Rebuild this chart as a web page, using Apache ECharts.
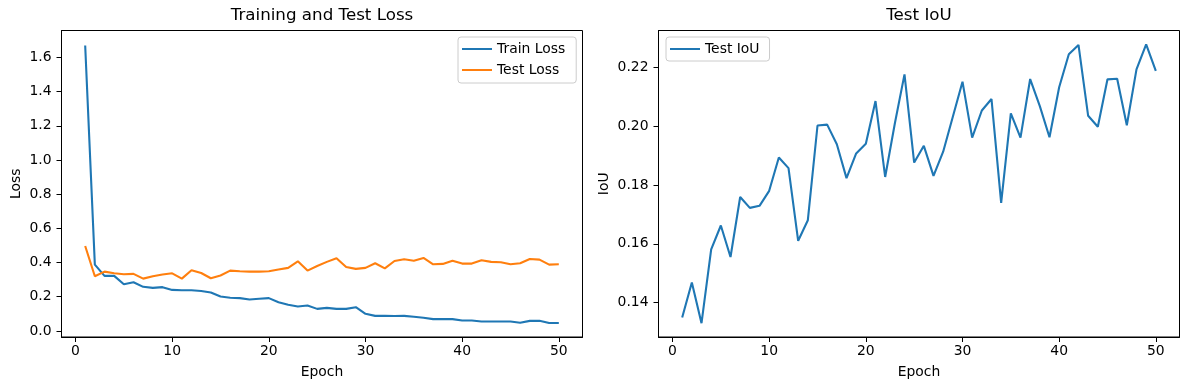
<!DOCTYPE html>
<html>
<head>
<meta charset="utf-8">
<script src="https://cdn.jsdelivr.net/npm/echarts@6/dist/echarts.min.js"></script>
<style>
html,body{margin:0;padding:0;background:#fff;}
#chart{width:1189px;height:390px;}
</style>
</head>
<body>
<div id="chart"></div>
<script>
const epochs = Array.from({length: 50}, (_, i) => i + 1);
const trainLoss = [1.67,0.388,0.322,0.322,0.273,0.285,0.258,0.252,0.256,0.240,
  0.238,0.238,0.234,0.225,0.201,0.194,0.192,0.184,0.188,0.192,
  0.168,0.153,0.143,0.149,0.129,0.135,0.129,0.129,0.139,0.100,
  0.088,0.088,0.087,0.088,0.083,0.077,0.069,0.069,0.069,0.061,
  0.061,0.055,0.055,0.055,0.055,0.048,0.059,0.059,0.046,0.046];
const testLoss = [0.497,0.320,0.347,0.337,0.332,0.334,0.306,0.320,0.330,0.337,
  0.306,0.355,0.339,0.308,0.324,0.353,0.349,0.347,0.347,0.349,
  0.359,0.369,0.407,0.353,0.380,0.404,0.425,0.374,0.363,0.369,
  0.396,0.366,0.409,0.419,0.411,0.427,0.390,0.392,0.411,0.394,
  0.394,0.413,0.404,0.402,0.390,0.396,0.421,0.417,0.388,0.390];
const testIoU = [0.1349,0.1468,0.1330,0.1581,0.1662,0.1555,0.1759,0.1722,0.1729,0.1780,
  0.1893,0.1857,0.1610,0.1680,0.2002,0.2005,0.1938,0.1823,0.1907,0.1940,
  0.2085,0.1827,0.2009,0.2176,0.1876,0.1933,0.1831,0.1913,0.2032,0.2151,
  0.1961,0.2053,0.2092,0.1739,0.2043,0.1961,0.2160,0.2068,0.1962,0.2132,
  0.2244,0.2276,0.2035,0.1998,0.2159,0.2161,0.2003,0.2193,0.2278,0.2188];
const xTicks = [0,10,20,30,40,50];
const lossTicks = [0,0.2,0.4,0.6,0.8,1.0,1.2,1.4,1.6];
const iouTicks = [0.14,0.16,0.18,0.20,0.22];

const FONT = 'DejaVu Sans';
const C1 = '#1f77b4', C2 = '#ff7f0e';
const pairs = arr => epochs.map((e, i) => [e, arr[i]]);

function xAxisCfg(idx){
  return {
    type:'value', gridIndex: idx, min:-1.45, max:52.45,
    name:'Epoch', nameLocation:'middle', nameGap:28,
    nameTextStyle:{fontFamily:FONT,fontSize:13.9,color:'#000'},
    axisLine:{show:true,onZero:false,lineStyle:{color:'#000',width:1}},
    axisTick:{show:true,inside:false,length:5,customValues:xTicks,lineStyle:{color:'#000',width:1}},
    axisLabel:{customValues:xTicks,margin:7,fontFamily:FONT,fontSize:13.9,color:'#000'},
    splitLine:{show:false}
  };
}
function yAxisCfg(idx,name,min,max,ticks,dec,gap){
  return {
    type:'value', gridIndex: idx, min:min, max:max,
    name:name, nameLocation:'middle', nameGap:gap,
    nameTextStyle:{fontFamily:FONT,fontSize:13.9,color:'#000'},
    axisLine:{show:true,onZero:false,lineStyle:{color:'#000',width:1}},
    axisTick:{show:true,inside:false,length:5,customValues:ticks,lineStyle:{color:'#000',width:1}},
    axisLabel:{customValues:ticks,margin:10,fontFamily:FONT,fontSize:13.9,color:'#000',
      formatter: v => Number(v).toFixed(dec)},
    splitLine:{show:false}
  };
}
const legendBase = {
  orient:'vertical', icon:'rect', itemWidth:30, itemHeight:2, itemGap:7, itemTextGap:10,
  backgroundColor:'rgba(255,255,255,0.8)', borderColor:'#cccccc', borderWidth:1, borderRadius:3,
  textStyle:{fontFamily:FONT,fontSize:13.9,color:'#000',lineHeight:14}
};

const chart = echarts.init(document.getElementById('chart'), null, {renderer:'canvas'});
chart.setOption({
  animation:false,
  backgroundColor:'#fff',
  title:[
    {text:'Training and Test Loss', left:322, top:7, textAlign:'center', padding:0,
     textStyle:{fontFamily:FONT,fontSize:16.7,fontWeight:'normal',color:'#000'}},
    {text:'Test IoU', left:919, top:7, textAlign:'center', padding:0,
     textStyle:{fontFamily:FONT,fontSize:16.7,fontWeight:'normal',color:'#000'}}
  ],
  legend:[
    Object.assign({}, legendBase, {data:['Train Loss','Test Loss'], left:458, top:37, padding:[5,11,6,4]}),
    Object.assign({}, legendBase, {data:['Test IoU'], left:666, top:37, padding:[5,10,5,4]})
  ],
  grid:[
    {left:61.5, width:521, top:30.5, height:306.5, show:true, borderColor:'#000', borderWidth:1, containLabel:false},
    {left:658.5, width:521, top:30.5, height:306.5, show:true, borderColor:'#000', borderWidth:1, containLabel:false}
  ],
  xAxis:[xAxisCfg(0), xAxisCfg(1)],
  yAxis:[
    yAxisCfg(0,'Loss',-0.0355,1.7575,lossTicks,1,38),
    yAxisCfg(1,'IoU',0.1283,0.2325,iouTicks,2,47)
  ],
  series:[
    {name:'Train Loss', type:'line', xAxisIndex:0, yAxisIndex:0, data:pairs(trainLoss),
     showSymbol:false, symbol:'none', color:C1, lineStyle:{color:C1,width:2.1}},
    {name:'Test Loss', type:'line', xAxisIndex:0, yAxisIndex:0, data:pairs(testLoss),
     showSymbol:false, symbol:'none', color:C2, lineStyle:{color:C2,width:2.1}},
    {name:'Test IoU', type:'line', xAxisIndex:1, yAxisIndex:1, data:pairs(testIoU),
     showSymbol:false, symbol:'none', color:C1, lineStyle:{color:C1,width:2.1}}
  ]
});
</script>
</body>
</html>
